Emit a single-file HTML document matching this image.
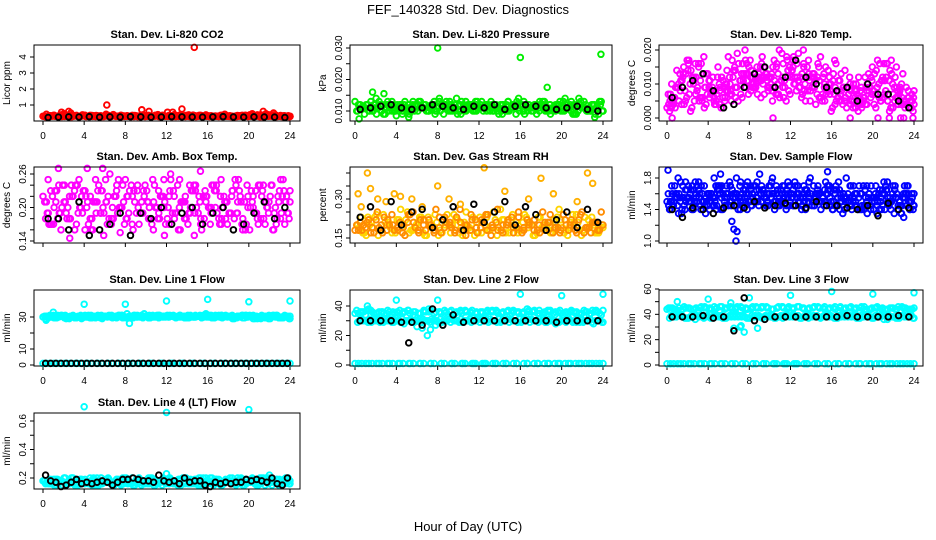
<!DOCTYPE html>
<html><head><meta charset="utf-8"><style>
body{margin:0;background:#fff;}
svg{display:block;font-family:"Liberation Sans",sans-serif;}
</style></head><body>
<svg id="chart" width="936" height="540" viewBox="0 0 936 540">
<text x="468" y="14" font-size="13" text-anchor="middle">FEF_140328  Std. Dev. Diagnostics</text>
<text x="468" y="531" font-size="13" text-anchor="middle">Hour of Day (UTC)</text>
</svg>
<script>
// ---- data ----
const co2Red=[0.3,0.28,0.35,0.32,0.45,0.38,0.32,0.3,0.36,0.3,0.28,0.33,0.42,0.3,0.3,0.28,0.32,0.35,0.3,0.38,0.3,0.29,0.31,0.3,0.35,0.4,0.3,0.32,0.3,0.28,0.3,0.33,0.3,0.3,0.29,0.31,0.3,0.34,0.3,0.28,0.3,0.32,0.35,0.38,0.33,0.3,0.32,0.3];
const co2RedB=[0.27,0.33,0.3,0.38,0.3,0.27,0.35,0.31,0.29,0.34,0.3,0.28,0.32,0.36,0.3,0.29,0.3,0.33,0.28,0.31,0.35,0.3,0.28,0.33,0.3,0.29,0.36,0.3,0.28,0.32,0.34,0.3,0.29,0.31,0.35,0.3,0.28,0.31,0.33,0.3,0.37,0.3,0.29,0.32,0.3,0.28,0.31,0.29];
const co2Black=[0.22,0.24,0.26,0.25,0.27,0.24,0.26,0.25,0.27,0.26,0.24,0.25,0.27,0.26,0.25,0.24,0.26,0.27,0.25,0.24,0.26,0.25,0.24,0.22];
const co2OutX=[1.8,2.5,2.7,6.2,9.6,10.3,12.1,12.6,13.5,14.7,21.4,22.4];
const co2OutY=[0.55,0.6,0.5,1.0,0.7,0.6,0.55,0.55,0.75,4.6,0.6,0.5];

const presGreen=[0.013,0.012,0.011,0.013,0.014,0.012,0.011,0.013,0.012,0.010,0.011,0.013,0.012,0.011,0.010,0.012,0.013,0.011,0.012,0.010,0.012,0.013,0.011,0.012,0.013,0.012,0.011,0.010,0.012,0.013,0.012,0.014,0.013,0.011,0.012,0.013,0.011,0.012,0.010,0.011,0.012,0.013,0.012,0.011,0.010,0.012,0.011,0.010];
const presGreenB=[0.010,0.011,0.012,0.010,0.011,0.009,0.010,0.011,0.010,0.012,0.009,0.010,0.011,0.012,0.011,0.009,0.010,0.012,0.010,0.011,0.009,0.010,0.012,0.010,0.011,0.010,0.012,0.011,0.009,0.010,0.011,0.012,0.010,0.012,0.010,0.011,0.012,0.010,0.011,0.012,0.010,0.011,0.009,0.012,0.011,0.010,0.009,0.012];
const presBlack=[0.0105,0.011,0.0115,0.012,0.011,0.0105,0.011,0.012,0.0115,0.011,0.0105,0.0115,0.011,0.012,0.0105,0.0115,0.012,0.0115,0.011,0.0105,0.011,0.0115,0.0105,0.0100];
const presOutX=[1.7,2.8,8.0,16.0,18.6,23.8,0.4,4.0,5.2,23.2];
const presOutY=[0.016,0.0155,0.030,0.027,0.0175,0.028,0.0075,0.0085,0.008,0.008];

const tempMagA=[0.003,0.005,0.009,0.012,0.014,0.011,0.016,0.013,0.009,0.006,0.004,0.005,0.007,0.009,0.011,0.013,0.014,0.012,0.016,0.013,0.008,0.007,0.012,0.014,0.017,0.019,0.016,0.013,0.012,0.011,0.010,0.008,0.009,0.007,0.006,0.008,0.010,0.009,0.008,0.011,0.009,0.006,0.005,0.007,0.004,0.005,0.006,0.004];
const tempMagB=[0.002,0.006,0.013,0.008,0.010,0.016,0.011,0.009,0.007,0.004,0.003,0.008,0.005,0.009,0.013,0.016,0.010,0.015,0.018,0.011,0.005,0.010,0.009,0.012,0.015,0.011,0.020,0.017,0.012,0.015,0.013,0.010,0.007,0.011,0.005,0.012,0.008,0.006,0.012,0.009,0.007,0.005,0.008,0.003,0.006,0.004,0.009,0.003];
const tempMagC=[0.007,0.004,0.010,0.015,0.017,0.012,0.005,0.003,0.006,0.004,0.008,0.006,0.010,0.014,0.011,0.017,0.012,0.009,0.006,0.013,0.012,0.015,0.011,0.018,0.014,0.016,0.013,0.015,0.009,0.012,0.007,0.009,0.011,0.006,0.009,0.007,0.010,0.012,0.005,0.008,0.004,0.006,0.007,0.002,0.005,0.008,0.003,0.005];
const tempBlack=[0.006,0.009,0.011,0.013,0.008,0.003,0.004,0.009,0.013,0.015,0.009,0.012,0.017,0.012,0.010,0.009,0.008,0.009,0.005,0.010,0.007,0.007,0.005,0.003];
const tempOutX=[0.5,10.3,17.8,20.5,21.6,22.7,23.0,23.9];
const tempOutY=[0,0,0,0,0,0,0,0];

const ambMagA=[0.22,0.19,0.17,0.24,0.21,0.18,0.23,0.20,0.16,0.22,0.25,0.19,0.21,0.17,0.23,0.20,0.18,0.22,0.24,0.19,0.21,0.16,0.23,0.20,0.22,0.18,0.25,0.21,0.19,0.23,0.17,0.22,0.20,0.24,0.18,0.21,0.23,0.19,0.16,0.22,0.20,0.24,0.18,0.21,0.19,0.23,0.17,0.21];
const ambMagB=[0.18,0.23,0.21,0.16,0.19,0.24,0.17,0.22,0.20,0.18,0.21,0.23,0.17,0.20,0.19,0.24,0.22,0.16,0.20,0.23,0.18,0.21,0.19,0.25,0.17,0.22,0.20,0.18,0.24,0.19,0.21,0.23,0.17,0.20,0.22,0.18,0.19,0.24,0.21,0.17,0.23,0.19,0.22,0.20,0.24,0.18,0.22,0.19];
const ambOutX=[0.5,1.5,3.5,4.3,5.8,6.5,8.0,12.4,15.3,17.3,19.0,23.1,2.6,5.9,7.5,11.8,14.7];
const ambOutY=[0.25,0.27,0.25,0.27,0.27,0.26,0.25,0.26,0.265,0.25,0.25,0.25,0.145,0.15,0.155,0.15,0.15];
const ambBlack=[0.18,0.18,0.16,0.21,0.15,0.16,0.17,0.19,0.15,0.19,0.18,0.20,0.17,0.19,0.20,0.17,0.19,0.20,0.16,0.17,0.19,0.21,0.18,0.20];

const rhOrange=[0.18,0.21,0.19,0.17,0.22,0.20,0.18,0.24,0.19,0.17,0.21,0.25,0.18,0.20,0.22,0.17,0.19,0.23,0.20,0.18,0.21,0.16,0.24,0.19,0.22,0.18,0.20,0.26,0.17,0.21,0.19,0.23,0.18,0.20,0.22,0.17,0.21,0.24,0.19,0.18,0.20,0.22,0.17,0.25,0.19,0.21,0.18,0.20];
const rhYellow=[0.20,0.17,0.23,0.19,0.16,0.24,0.21,0.18,0.22,0.20,0.17,0.19,0.23,0.16,0.21,0.24,0.18,0.20,0.17,0.22,0.19,0.25,0.18,0.21,0.17,0.23,0.19,0.16,0.22,0.20,0.24,0.17,0.21,0.19,0.16,0.23,0.20,0.18,0.22,0.26,0.17,0.19,0.21,0.18,0.23,0.20,0.17,0.19];
const rhOutX=[0.3,0.6,1.2,1.5,2.2,3.0,3.8,4.4,5.5,6.5,8.0,9.1,10.2,12.5,14.5,16.8,18.0,19.2,21.5,22.5,23.0];
const rhOutY=[0.32,0.27,0.40,0.34,0.30,0.29,0.32,0.31,0.30,0.27,0.35,0.30,0.28,0.42,0.33,0.30,0.38,0.32,0.29,0.40,0.36];
const rhBlack=[0.23,0.27,0.18,0.29,0.20,0.25,0.26,0.19,0.22,0.27,0.18,0.28,0.21,0.25,0.29,0.20,0.27,0.24,0.18,0.22,0.25,0.19,0.26,0.21];

const flowBlueA=[1.5,1.6,1.45,1.7,1.55,1.4,1.65,1.5,1.6,1.45,1.7,1.55,1.5,1.6,1.75,1.5,1.65,1.55,1.7,1.5,1.6,1.45,1.7,1.55,1.65,1.5,1.6,1.75,1.55,1.5,1.65,1.45,1.6,1.5,1.55,1.7,1.45,1.6,1.5,1.55,1.45,1.6,1.5,1.55,1.45,1.6,1.5,1.45];
const flowBlueB=[1.4,1.7,1.55,1.4,1.6,1.75,1.45,1.35,1.5,1.7,1.4,1.6,1.45,1.8,1.55,1.7,1.45,1.75,1.5,1.6,1.8,1.65,1.5,1.75,1.45,1.7,1.55,1.5,1.7,1.6,1.45,1.7,1.5,1.65,1.4,1.55,1.6,1.4,1.65,1.45,1.6,1.5,1.7,1.4,1.55,1.35,1.6,1.5];
const flowBlueC=[1.6,1.45,1.35,1.55,1.5,1.65,1.55,1.7,1.4,1.55,1.6,1.45,1.7,1.55,1.4,1.65,1.7,1.5,1.6,1.45,1.55,1.7,1.6,1.45,1.6,1.55,1.45,1.6,1.5,1.65,1.55,1.6,1.4,1.45,1.6,1.5,1.7,1.55,1.4,1.6,1.55,1.4,1.6,1.5,1.65,1.5,1.55,1.4];
const flowOutX=[0.1,1.8,5.2,6.3,6.5,6.7,6.8,9.0,15.6,23.0];
const flowOutY=[1.9,1.75,1.85,1.25,1.15,1.0,1.12,1.85,1.88,1.3];
const flowBlack=[1.4,1.3,1.42,1.4,1.35,1.42,1.45,1.42,1.5,1.42,1.45,1.48,1.45,1.42,1.5,1.45,1.45,1.42,1.4,1.45,1.32,1.48,1.4,1.42];

const l1CyanA=[30,29.5,31,30,30.5,29,30,30.5,31,30,29.5,30,30.5,30,29.5,31,30,30.5,30,29.5,30,30.5,31,30,30.5,30,31,30.5,30,31,30.5,32,31,30.5,31,30.5,31,30.5,31,30.5,31,30,30.5,31,30.5,30,31,30.5];
const l1CyanB=[29,30.5,29.5,31,29,30,29.5,29,30,29.5,30.5,29,30,29.5,30.5,29.5,30,29.5,30.5,30,29.5,30,29.5,30.5,30,30.5,30,29.5,30.5,30,31,30.5,30,31,30,31,30.5,30,30.5,31,30,30.5,31,30,30.5,31,30,30.5];
const l1CyanLow=[1,1,1,1,1,1,1,1,1,1,1,1,1,1,1,1,1,1,1,1,1,1,1,1];
const l1OutX=[4,8,12,16,20,24,1.0,8.4,0.3];
const l1OutY=[38,38,40,41,39.5,40,33,26,28];
const l1Black=[1,1,1,1,1,1,1,1,1,1,1,1,1,1,1,1,1,1,1,1,1,1,1,1,1,1,1,1,1,1,1,1,1,1,1,1,1,1,1,1,1,1,1,1,1,1,1,1];

const l2CyanA=[35,36,34,37,35,36,35,34,36,35,37,34,35,36,38,35,36,35,36,35,37,36,35,36,35,36,37,36,35,36,37,36,35,36,37,35,36,37,36,35,36,37,36,35,36,37,36,37];
const l2CyanB=[29,30,29,30,31,29,30,29,30,28,30,29,31,30,29,30,31,30,29,30,31,30,29,30,31,30,30,29,30,31,30,29,30,31,30,29,30,31,30,29,30,31,30,29,30,31,30,30];
const l2CyanLow=[1,1,1,1,1,1,1,1,1,1,1,1,1,1,1,1,1,1,1,1,1,1,1,1];
const l2OutX=[6,6.5,7,7.3,7.8,4,8,16,20,24,1.2];
const l2OutY=[26,25,20,24,27,44,44,48,47,48,40];
const l2Black=[30,30,30,30,29,29,27,38,27,34,29,30,30,30,30,30,30,30,30,29,30,30,30,30];
const l2BlackOutX=[5.2];
const l2BlackOutY=[15];

const l3CyanA=[44,45,43,44,45,44,43,45,44,46,43,44,45,44,43,45,44,45,46,45,44,45,46,45,44,46,45,44,46,45,46,45,44,46,45,46,45,46,44,45,46,45,44,45,46,45,44,45];
const l3CyanB=[37,38,39,37,38,36,39,38,37,38,39,37,38,39,38,37,39,38,37,38,39,38,37,39,38,39,38,37,39,38,39,38,37,39,38,39,38,37,39,38,39,38,39,38,37,39,38,39];
const l3CyanLow=[1,1,1,1,1,1,1,1,1,1,1,1,1,1,1,1,1,1,1,1,1,1,1,1];
const l3OutX=[1,4,6.2,6.5,7.1,7.5,8.0,8.8,12,16,20,24,7.2];
const l3OutY=[50,52,49,29,30,26,53,29,55,58,56,57,31];
const l3Black=[38,38,38,39,37,38,27,53,35,36,38,38,38,38,38,38,38,39,38,38,38,38,39,38];

const l4CyanA=[0.18,0.16,0.19,0.17,0.2,0.16,0.18,0.17,0.19,0.16,0.18,0.2,0.17,0.16,0.19,0.18,0.17,0.2,0.16,0.18,0.17,0.19,0.16,0.18,0.2,0.17,0.19,0.16,0.18,0.17,0.2,0.18,0.16,0.19,0.17,0.18,0.2,0.16,0.18,0.17,0.19,0.16,0.18,0.2,0.17,0.19,0.16,0.18];
const l4CyanB=[0.16,0.19,0.15,0.18,0.16,0.2,0.15,0.19,0.17,0.15,0.2,0.16,0.18,0.15,0.17,0.2,0.16,0.15,0.19,0.16,0.2,0.15,0.17,0.19,0.16,0.18,0.15,0.2,0.16,0.19,0.15,0.17,0.2,0.16,0.15,0.19,0.17,0.15,0.2,0.16,0.18,0.15,0.2,0.17,0.15,0.19,0.16,0.17];
const l4OutX=[4,12,20,12,22];
const l4OutY=[0.7,0.66,0.68,0.23,0.22];
const l4Black=[0.22,0.18,0.17,0.14,0.15,0.17,0.19,0.16,0.17,0.16,0.17,0.18,0.17,0.15,0.17,0.19,0.19,0.2,0.19,0.18,0.18,0.17,0.22,0.18,0.17,0.18,0.16,0.2,0.17,0.18,0.18,0.15,0.14,0.17,0.16,0.17,0.16,0.17,0.17,0.19,0.18,0.19,0.18,0.17,0.2,0.16,0.15,0.2];

// ---- layout ----
const NS='http://www.w3.org/2000/svg';
const svg=document.getElementById('chart');
function el(tag,attrs,parent){const e=document.createElementNS(NS,tag);for(const k in attrs)e.setAttribute(k,attrs[k]);(parent||svg).appendChild(e);return e;}
const cols=[{l:34,r:300,x0:43,x24:290},{l:350,r:612,x0:355,x24:603},{l:659,r:923,x0:667,x24:914}];
const rows=[{t:45,b:121,lab:true},{t:167,b:243,lab:false},{t:290,b:366,lab:true},{t:413,b:489,lab:true}];
const xTicks=[0,4,8,12,16,20,24];

function panel(name,title,ylab,ci,ri,v1,p1,v2,p2,ticks,labels,series){
  const c=cols[ci],r=rows[ri];
  const g=el('g',{});
  
  
  const xs=h=>c.x0+(c.x24-c.x0)*h/24;
  const ys=v=>p1+(p2-p1)*(v-v1)/(v2-v1);
  const t=el('text',{x:(c.l+c.r)/2,y:r.t-7,'font-size':11,'font-weight':'bold','text-anchor':'middle'},g);
  t.textContent=title;
  
  
  const yl=el('text',{x:0,y:0,'font-size':10,'text-anchor':'middle',transform:`translate(${c.l-24},${(r.t+r.b)/2}) rotate(-90)`},g);
  yl.textContent=ylab;
  
  
  const yLo=ys(ticks[0]),yHi=ys(ticks[ticks.length-1]);
  el('line',{x1:c.l,x2:c.l,y1:yLo,y2:yHi,stroke:'#000','stroke-width':1},g);
  ticks.forEach((v,i)=>{
    const y=ys(v);
    el('line',{x1:c.l-4,x2:c.l,y1:y,y2:y,stroke:'#000'},g);
    if(labels[i]){
      const tl=el('text',{x:0,y:0,'font-size':10,'text-anchor':'middle',transform:`translate(${c.l-8},${y}) rotate(-90)`},g);
      tl.textContent=labels[i];
      
      
    }
  });
  el('line',{x1:xs(0),x2:xs(24),y1:r.b,y2:r.b,stroke:'#000'},g);
  xTicks.forEach(h=>{
    el('line',{x1:xs(h),x2:xs(h),y1:r.b,y2:r.b+4,stroke:'#000'},g);
    if(r.lab){
      const tl=el('text',{x:xs(h),y:r.b+18,'font-size':10,'text-anchor':'middle'},g);
      tl.textContent=h;
      
      
    }
  });
  function plot(vals,xsArr,off,col){
    const n=vals.length;
    vals.forEach((v,i)=>{
      const h=xsArr?xsArr[i]:(off!==undefined?Math.min(24,(i+off)*24/n):i*24/(n-1));
      const p=el('circle',{cx:xs(h),cy:ys(v),r:2.8,fill:'none',stroke:col,'stroke-width':1.9},g);
      
      
    });
  }
  series.forEach(s=>{
    plot(s.y,s.x,s.off,s.c);
    if(!s.x && s.c!==K){ plot(s.y.slice().reverse(),null,(s.off||0)+0.33,s.c); plot(s.y.slice(12).concat(s.y.slice(0,12)),null,(s.off||0)+0.66,s.c); }
  });
  el('rect',{x:c.l,y:r.t,width:c.r-c.l,height:r.b-r.t,fill:'none',stroke:'#000','stroke-width':1},g);
}
const R='#ff0000',K='#000000',G='#00ee00',M='#ff00ff',B='#0000ff',C='#00ffff';
panel('panel-co2','Stan. Dev. Li-820 CO2','Licor ppm',0,0,1,105,4,57,[1,2,3,4],['1','2','3','4'],
 [{y:co2Red,c:R},{y:co2RedB,c:R,off:0.5},{x:co2OutX,y:co2OutY,c:R},{y:co2Black,c:K,off:0.5}]);
panel('panel-pressure','Stan. Dev. Li-820 Pressure','kPa',1,0,0.010,111,0.030,48,[0.010,0.015,0.020,0.025,0.030],['0.010','','0.020','','0.030'],
 [{y:presGreen,c:G},{y:presGreenB,c:G,off:0.5},{x:presOutX,y:presOutY,c:G},{y:presBlack,c:K,off:0.5}]);
panel('panel-li820-temp','Stan. Dev. Li-820 Temp.','degrees C',2,0,0,118,0.020,50,[0,0.005,0.010,0.015,0.020],['0.000','','0.010','','0.020'],
 [{y:tempMagA,c:M},{y:tempMagB,c:M,off:0.5},{y:tempMagC,c:M,off:0.25},{x:tempOutX,y:tempOutY,c:M},{y:tempBlack,c:K,off:0.5}]);
panel('panel-amb-temp','Stan. Dev. Amb. Box Temp.','degrees C',0,1,0.14,241,0.26,174,[0.14,0.16,0.18,0.20,0.22,0.24,0.26],['0.14','','','0.20','','','0.26'],
 [{y:ambMagA,c:M},{y:ambMagB,c:M,off:0.5},{x:ambOutX,y:ambOutY,c:M},{y:ambBlack,c:K,off:0.5}]);
panel('panel-rh','Stan. Dev. Gas Stream RH','percent',1,1,0.15,238,0.30,199,[0.15,0.20,0.25,0.30,0.35,0.40],['0.15','','','0.30','',''],
 [{y:rhYellow,c:'#ffd400',off:0.5},{y:rhOrange,c:'#ff8c00'},{x:rhOutX,y:rhOutY,c:'#ffb000'},{y:rhBlack,c:K,off:0.5}]);
panel('panel-sample-flow','Stan. Dev. Sample Flow','ml/min',2,1,1.0,241,1.8,178,[1.0,1.2,1.4,1.6,1.8],['1.0','','1.4','','1.8'],
 [{y:flowBlueA,c:B},{y:flowBlueB,c:B,off:0.5},{y:flowBlueC,c:B,off:0.25},{x:flowOutX,y:flowOutY,c:B},{y:flowBlack,c:K,off:0.5}]);
panel('panel-line1','Stan. Dev. Line 1 Flow','ml/min',0,2,0,365,30,317,[0,10,20,30],['0','10','','30'],
 [{y:l1CyanA,c:C},{y:l1CyanB,c:C,off:0.5},{y:l1CyanLow,c:C},{x:l1OutX,y:l1OutY,c:C},{y:l1Black,c:K,off:0.5}]);
panel('panel-line2','Stan. Dev. Line 2 Flow','ml/min',1,2,0,365,40,306,[0,10,20,30,40],['0','','20','','40'],
 [{y:l2CyanA,c:C},{y:l2CyanB,c:C,off:0.5},{y:l2CyanLow,c:C},{x:l2OutX,y:l2OutY,c:C},{y:l2Black,c:K,off:0.5},{x:l2BlackOutX,y:l2BlackOutY,c:K}]);
panel('panel-line3','Stan. Dev. Line 3 Flow','ml/min',2,2,0,365,60,289,[0,10,20,30,40,50,60],['0','','20','','40','','60'],
 [{y:l3CyanA,c:C},{y:l3CyanB,c:C,off:0.5},{y:l3CyanLow,c:C},{x:l3OutX,y:l3OutY,c:C},{y:l3Black,c:K,off:0.5}]);
panel('panel-line4','Stan. Dev. Line 4 (LT) Flow','ml/min',0,3,0.2,478,0.6,421,[0.2,0.3,0.4,0.5,0.6],['0.2','','0.4','','0.6'],
 [{y:l4CyanA,c:C},{y:l4CyanB,c:C,off:0.5},{x:l4OutX,y:l4OutY,c:C},{y:l4Black,c:K,off:0.5}]);
</script>
</body></html>
